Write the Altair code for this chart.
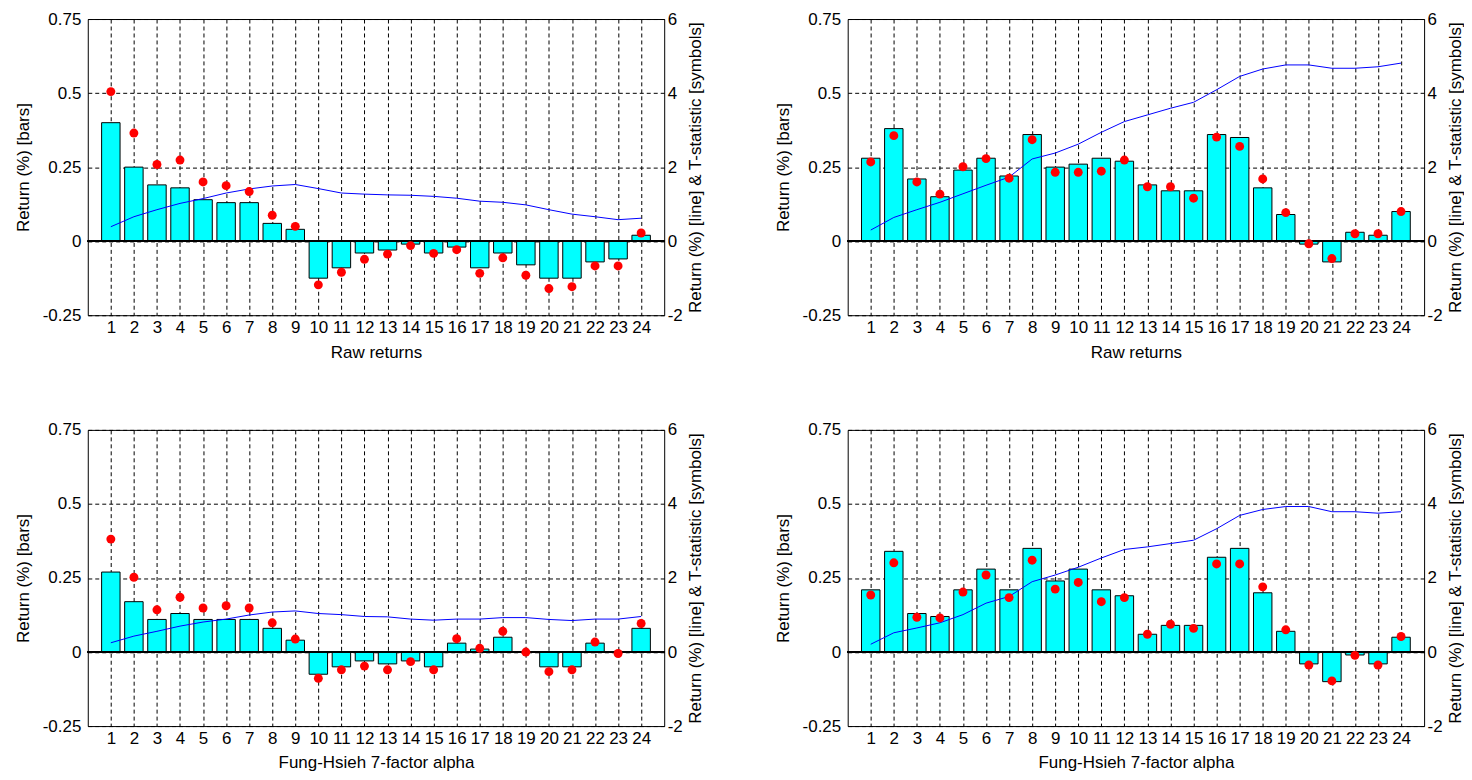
import altair as alt
import pandas as pd

months = list(range(1, 25))
tick_left = [-0.25, 0, 0.25, 0.5, 0.75]
tick_right = [-2, 0, 2, 4, 6]

# Top-left: raw returns
tl_bars = [0.40, 0.25, 0.19, 0.18, 0.14, 0.13, 0.13, 0.06, 0.04, -0.125, -0.09, -0.04,
           -0.03, -0.01, -0.04, -0.02, -0.09, -0.04, -0.08, -0.125, -0.125, -0.07, -0.06, 0.02]
tl_t = [4.04, 2.92, 2.07, 2.19, 1.60, 1.50, 1.34, 0.70, 0.40, -1.18, -0.84, -0.49,
        -0.35, -0.12, -0.33, -0.23, -0.87, -0.45, -0.92, -1.28, -1.23, -0.67, -0.67, 0.22]
tl_line = [0.39, 0.66, 0.85, 1.02, 1.15, 1.30, 1.41, 1.49, 1.53, 1.42, 1.30, 1.27,
           1.25, 1.24, 1.21, 1.16, 1.08, 1.05, 0.98, 0.85, 0.73, 0.66, 0.58, 0.62]

# Top-right: raw returns
tr_bars = [0.28, 0.38, 0.21, 0.15, 0.24, 0.28, 0.22, 0.36, 0.25, 0.26, 0.28, 0.27,
           0.19, 0.17, 0.17, 0.36, 0.35, 0.18, 0.09, -0.01, -0.07, 0.03, 0.02, 0.10]
tr_t = [2.14, 2.85, 1.60, 1.27, 2.01, 2.23, 1.70, 2.74, 1.86, 1.86, 1.89, 2.19,
        1.47, 1.47, 1.16, 2.81, 2.56, 1.68, 0.77, -0.07, -0.47, 0.20, 0.20, 0.80]
tr_line = [0.30, 0.64, 0.85, 1.05, 1.28, 1.51, 1.73, 2.22, 2.38, 2.62, 2.94, 3.23,
           3.41, 3.59, 3.75, 4.09, 4.45, 4.65, 4.76, 4.76, 4.67, 4.67, 4.71, 4.81]

# Bottom-left: Fung-Hsieh 7-factor alpha
bl_bars = [0.27, 0.17, 0.11, 0.13, 0.11, 0.11, 0.11, 0.08, 0.04, -0.075, -0.05, -0.03,
           -0.04, -0.03, -0.05, 0.03, 0.01, 0.05, 0.0, -0.05, -0.05, 0.03, 0.0, 0.08]
bl_t = [3.05, 2.02, 1.14, 1.48, 1.19, 1.25, 1.19, 0.79, 0.35, -0.71, -0.48, -0.38,
        -0.48, -0.26, -0.48, 0.36, 0.10, 0.56, 0.0, -0.53, -0.48, 0.27, -0.04, 0.77]
bl_line = [0.25, 0.43, 0.56, 0.70, 0.81, 0.89, 1.00, 1.08, 1.11, 1.04, 1.01, 0.96,
           0.95, 0.89, 0.86, 0.89, 0.89, 0.93, 0.93, 0.88, 0.85, 0.89, 0.89, 0.96]

# Bottom-right: Fung-Hsieh 7-factor alpha
br_bars = [0.21, 0.34, 0.13, 0.12, 0.21, 0.28, 0.21, 0.35, 0.24, 0.28, 0.21, 0.19,
           0.06, 0.09, 0.09, 0.32, 0.35, 0.20, 0.07, -0.04, -0.10, -0.01, -0.04, 0.05]
br_t = [1.54, 2.41, 0.94, 0.92, 1.62, 2.08, 1.47, 2.48, 1.70, 1.88, 1.36, 1.47,
        0.48, 0.75, 0.64, 2.38, 2.38, 1.76, 0.60, -0.35, -0.78, -0.09, -0.35, 0.42]
br_line = [0.21, 0.52, 0.65, 0.79, 1.01, 1.32, 1.50, 1.90, 2.08, 2.29, 2.54, 2.77,
           2.84, 2.93, 3.02, 3.33, 3.69, 3.85, 3.93, 3.93, 3.79, 3.79, 3.75, 3.79]

FONT = "Liberation Sans"
FS = 17
W, H = 578, 297


def panel(bars, tstat, line, xtitle):
    df = pd.DataFrame({"m": months, "bar": bars, "t": tstat, "line": line})
    base = alt.Chart(df)
    xscale = alt.Scale(domain=[0, 25], nice=False, zero=False)
    xaxis = alt.Axis(values=months, title=xtitle, grid=True, gridDash=[4, 3],
                     gridColor="black", gridOpacity=1, gridWidth=1, ticks=False,
                     labelPadding=4, labelOverlap=False, labelFlush=False,
                     titlePadding=9, domain=False)
    lscale = alt.Scale(domain=[-0.25, 0.75], nice=False, zero=False)
    laxis = alt.Axis(values=tick_left, title="Return (%) [bars]", grid=True,
                     gridDash=[4, 3], gridColor="black", gridOpacity=1, ticks=False,
                     labelExpr="'' + datum.value", labelPadding=7, titlePadding=10,
                     domain=False)
    rscale = alt.Scale(domain=[-2, 6], nice=False, zero=False)
    raxis = alt.Axis(values=tick_right, title="Return (%) [line] & T-statistic [symbols]",
                     orient="right", grid=False, ticks=False, labelPadding=3,
                     titlePadding=5, titleAngle=270, titleBaseline="top", domain=False,
                     labelExpr="'' + datum.value")

    barlayer = base.transform_calculate(
        xa="datum.m - 0.4", xb="datum.m + 0.4"
    ).mark_bar(fill="#00FFFF", stroke="black", strokeWidth=1).encode(
        x=alt.X("xa:Q", scale=xscale, axis=xaxis),
        x2="xb:Q",
        y=alt.Y("bar:Q", scale=lscale, axis=laxis),
        y2=alt.datum(0),
    )
    baseline = base.mark_rule(color="black", strokeWidth=1).encode(
        y=alt.datum(0)
    )
    left = alt.layer(barlayer, baseline)

    linelayer = base.mark_line(color="#0000FF", strokeWidth=1).encode(
        x=alt.X("m:Q", scale=xscale, axis=xaxis),
        y=alt.Y("line:Q", scale=rscale, axis=raxis),
    )
    dots = base.mark_circle(color="#FF0000", opacity=1, size=80).encode(
        x=alt.X("m:Q", scale=xscale, axis=xaxis),
        y=alt.Y("t:Q", scale=rscale, axis=raxis),
    )
    right = alt.layer(linelayer, dots)
    return alt.layer(left, right).resolve_scale(y="independent").properties(
        width=W, height=H
    )


top = alt.hconcat(panel(tl_bars, tl_t, tl_line, "Raw returns"),
                  panel(tr_bars, tr_t, tr_line, "Raw returns"), spacing=69)
bottom = alt.hconcat(panel(bl_bars, bl_t, bl_line, "Fung-Hsieh 7-factor alpha"),
                     panel(br_bars, br_t, br_line, "Fung-Hsieh 7-factor alpha"), spacing=69)

chart = alt.vconcat(top, bottom, spacing=59).configure(
    font=FONT, padding={"left": 5, "top": 0, "right": 0, "bottom": 0},
    background="white"
).configure_view(
    stroke="black", strokeWidth=1
).configure_axis(
    labelFont=FONT, titleFont=FONT, labelFontSize=FS, titleFontSize=FS,
    labelColor="black", titleColor="black", titleFontWeight="normal"
)

chart.save("out.html", embed_options={"renderer": "svg", "actions": False})
